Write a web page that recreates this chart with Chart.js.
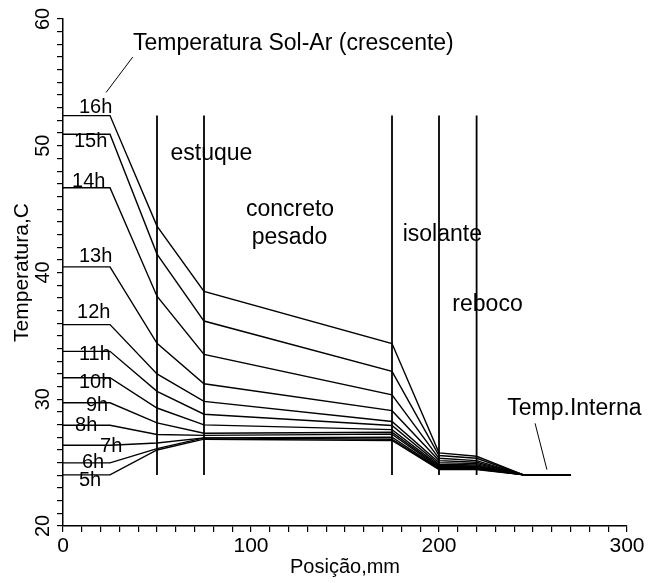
<!DOCTYPE html>
<html>
<head>
<meta charset="utf-8">
<script src="https://cdn.jsdelivr.net/npm/chart.js@4"></script>
<style>
  html, body { margin: 0; padding: 0; background: #fff; }
</style>
</head>
<body>
<canvas id="grafico" width="648" height="583"></canvas>
<script>
// posições (mm) onde cada perfil tem um vértice
const posicoes = [0, 25, 50, 75, 175, 200, 220, 245, 270];
// interfaces entre as camadas
const interfaces = [50, 75, 175, 200, 220];

const horas = ['5h', '6h', '7h', '8h', '9h', '10h', '11h', '12h', '13h', '14h', '15h', '16h'];

// temperatura (C) em cada posição, uma lista por hora
const t5h  = [24.03, 24.03, 26.00, 26.85, 26.75, 24.45, 24.45, 24.03, 24.03];
const t6h  = [24.98, 24.98, 26.11, 26.95, 26.85, 24.50, 24.50, 24.03, 24.03];
const t7h  = [26.37, 26.37, 26.55, 26.95, 27.00, 24.55, 24.55, 24.03, 24.03];
const t8h  = [27.95, 27.95, 27.22, 27.15, 27.25, 24.61, 24.62, 24.03, 24.03];
const t9h  = [29.72, 29.72, 28.14, 27.32, 27.40, 24.69, 24.69, 24.03, 24.03];
const t10h = [31.70, 31.70, 29.31, 27.98, 27.60, 24.77, 24.74, 24.03, 24.03];
const t11h = [33.78, 33.78, 30.62, 28.82, 27.93, 24.87, 24.82, 24.03, 24.03];
const t12h = [35.89, 35.89, 32.00, 29.83, 28.25, 25.00, 24.92, 24.03, 24.03];
const t13h = [40.44, 40.44, 34.41, 31.22, 29.10, 25.16, 25.03, 24.03, 24.03];
const t14h = [46.69, 46.69, 38.13, 33.54, 30.35, 25.34, 25.16, 24.03, 24.03];
const t15h = [50.91, 50.91, 41.45, 36.17, 32.20, 25.56, 25.34, 24.03, 24.03];
const t16h = [52.38, 52.38, 43.66, 38.50, 34.40, 25.77, 25.50, 24.03, 24.03];

const series = [t5h, t6h, t7h, t8h, t9h, t10h, t11h, t12h, t13h, t14h, t15h, t16h];

// rótulos dos eixos
const rotulosY = [20, 30, 40, 50, 60];

const fonte = '"Liberation Sans", Arial, sans-serif';

// onde escrever cada hora (mm, C) - canto inferior esquerdo do texto
const ancoraHoras = [
    [8.5, 23.19], [10.1, 24.61], [19.7, 25.87], [6.4, 27.53], [12.2, 29.11], [8.5, 30.85],
    [8.5, 33.06], [7.45, 36.38], [8.5, 40.81], [4.8, 46.74], [5.85, 49.91], [8.5, 52.59]
];

// textos soltos no gráfico
const notas = [
    { texto: 'Temperatura Sol-Ar (crescente)', x: 37.2, y: 57.57 },
    { texto: 'estuque', x: 57.2, y: 48.88 },
    { texto: 'concreto', x: 97.3, y: 44.45 },
    { texto: 'pesado', x: 100.4, y: 42.24 },
    { texto: 'isolante', x: 180.7, y: 42.5 },
    { texto: 'reboco', x: 207.1, y: 36.94 },
    { texto: 'Temp.Interna', x: 236.3, y: 28.72 }
];
// traços que ligam os textos às curvas
const tracos = [
    [[37.1, 57.0], [22.9, 54.2]],
    [[251.1, 28.1], [257.4, 24.45]]
];

const datasets = series.map((s, i) => ({
    label: horas[i],
    data: posicoes.map((p, j) => ({ x: p, y: s[j] })),
    borderColor: '#000',
    borderWidth: 1.4,
    pointRadius: 0,
    tension: 0,
    fill: false
}));

// linhas verticais nas interfaces, do perfil mais frio ao mais quente
const yMin = Math.min(...series.map(s => Math.min(...s)));
const yMax = Math.max(...series.map(s => Math.max(...s)));
interfaces.forEach(p => {
    datasets.push({
        label: 'interface ' + p,
        data: [{ x: p, y: yMin }, { x: p, y: yMax }],
        borderColor: '#000',
        borderWidth: 1.8,
        pointRadius: 0,
        fill: false
    });
});

const textos = {
    id: 'textos',
    afterDraw(chart) {
        const ctx = chart.ctx;
        const sx = chart.scales.x, sy = chart.scales.y;
        ctx.save();
        ctx.fillStyle = '#000';
        ctx.strokeStyle = '#000';
        ctx.textAlign = 'left';
        ctx.textBaseline = 'alphabetic';

        ctx.font = '20px ' + fonte;
        horas.forEach((h, i) => {
            ctx.fillText(h, sx.getPixelForValue(ancoraHoras[i][0]), sy.getPixelForValue(ancoraHoras[i][1]));
        });

        ctx.font = '23px ' + fonte;
        notas.forEach(n => ctx.fillText(n.texto, sx.getPixelForValue(n.x), sy.getPixelForValue(n.y)));

        ctx.lineWidth = 1;
        tracos.forEach(t => {
            ctx.beginPath();
            ctx.moveTo(sx.getPixelForValue(t[0][0]), sy.getPixelForValue(t[0][1]));
            ctx.lineTo(sx.getPixelForValue(t[1][0]), sy.getPixelForValue(t[1][1]));
            ctx.stroke();
        });

        // rótulos do eixo y, girados
        ctx.font = '20px ' + fonte;
        ctx.textAlign = 'center';
        ctx.textBaseline = 'middle';
        rotulosY.forEach(v => {
            ctx.save();
            ctx.translate(sx.left - 20, sy.getPixelForValue(v));
            ctx.rotate(-Math.PI / 2);
            ctx.fillText(String(v), 0, 0);
            ctx.restore();
        });
        ctx.restore();
    }
};

new Chart(document.getElementById('grafico'), {
    type: 'line',
    data: { datasets: datasets },
    options: {
        responsive: false,
        animation: false,
        events: [],
        layout: { padding: { left: 0, right: 21, top: 19, bottom: 0 } },
        plugins: { legend: { display: false }, tooltip: { enabled: false } },
        scales: {
            x: {
                type: 'linear',
                min: 0,
                max: 300,
                afterFit(s) { s.height = 57; },
                ticks: {
                    stepSize: 10,
                    autoSkip: false,
                    maxRotation: 0,
                    padding: 2,
                    color: '#000',
                    font: { family: fonte, size: 21 },
                    callback: v => (v % 100 === 0 ? v : '')
                },
                grid: { drawOnChartArea: false, drawTicks: true, tickLength: 6, color: '#000', lineWidth: 1.2 },
                border: { color: '#000', width: 1.5 },
                title: {
                    display: true,
                    text: 'Posição,mm',
                    color: '#000',
                    font: { family: fonte, size: 20 },
                    padding: { top: 0, bottom: 4 }
                }
            },
            y: {
                type: 'linear',
                min: 20,
                max: 60,
                afterFit(s) { s.width = 63; },
                ticks: {
                    stepSize: 1,
                    autoSkip: false,
                    color: '#000',
                    callback: () => ''
                },
                grid: { drawOnChartArea: false, drawTicks: true, tickLength: 6, color: '#000', lineWidth: 1.2 },
                border: { color: '#000', width: 1.5 },
                title: {
                    display: true,
                    text: 'Temperatura,C',
                    color: '#000',
                    font: { family: fonte, size: 21 },
                    padding: { top: 10, bottom: 0 }
                }
            }
        }
    },
    plugins: [textos]
});
</script>
</body>
</html>
